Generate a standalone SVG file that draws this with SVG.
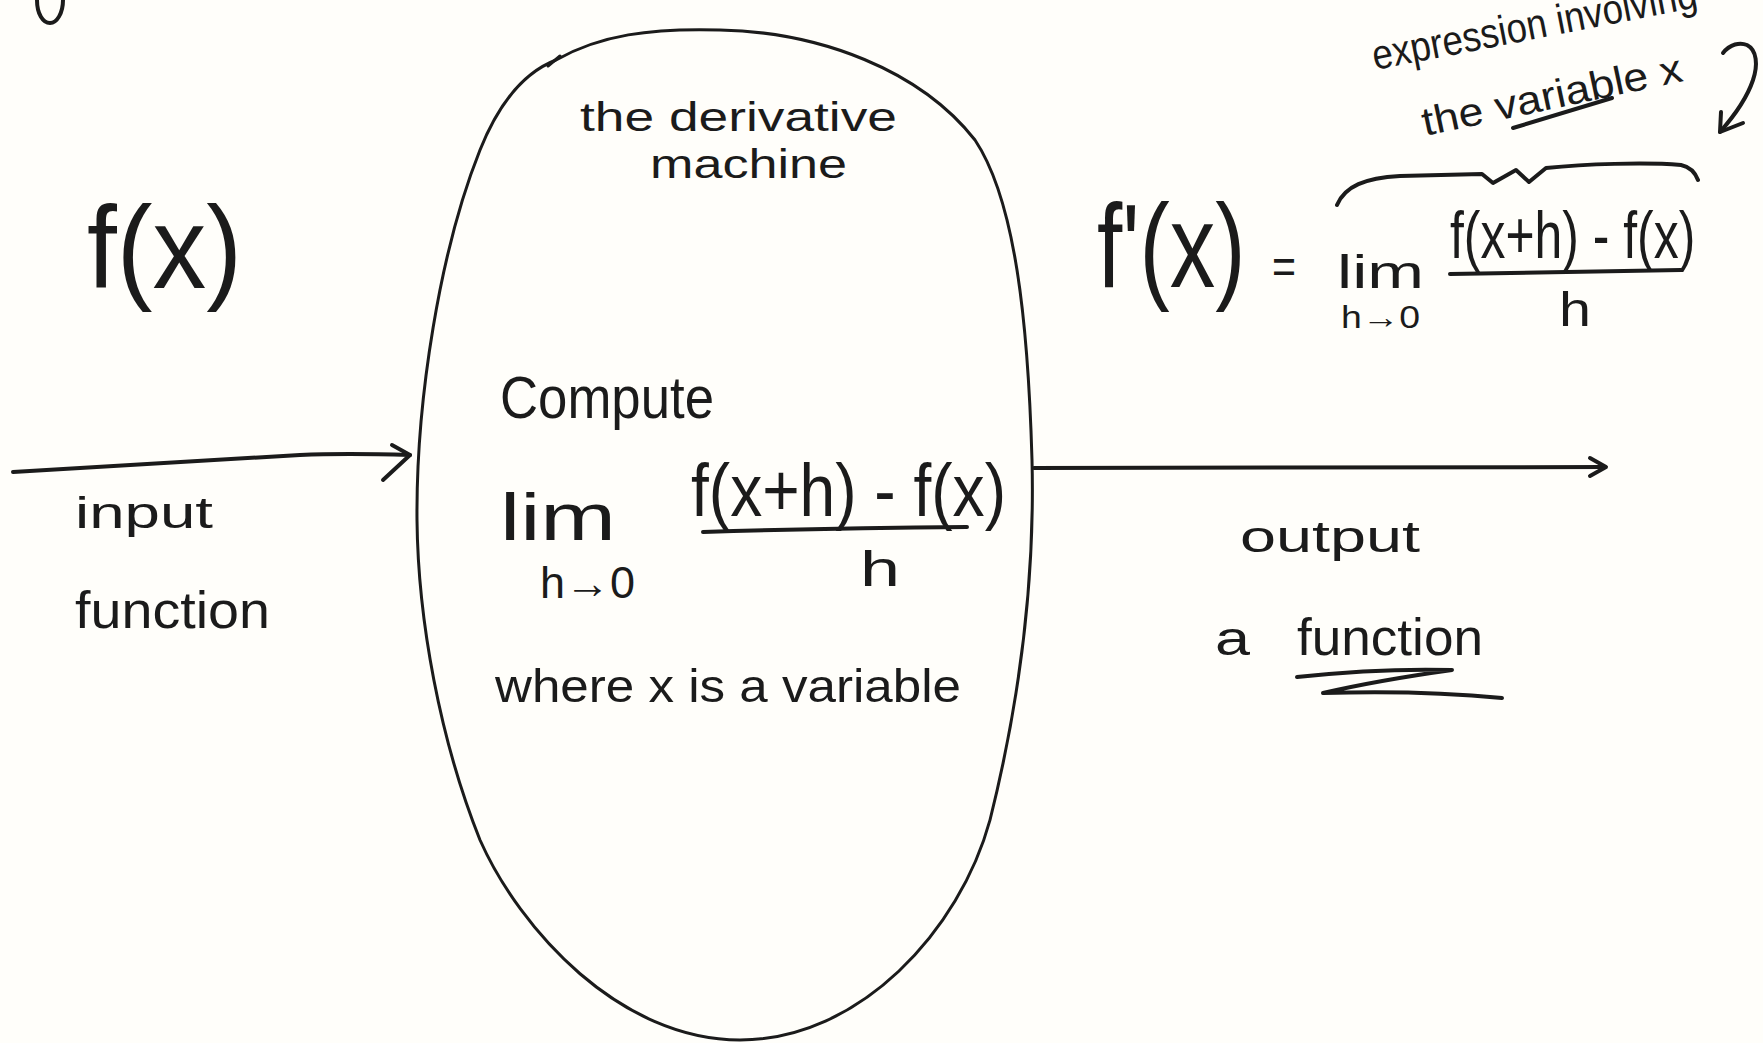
<svg xmlns="http://www.w3.org/2000/svg" width="1763" height="1043" viewBox="0 0 1763 1043">
<style>
.ink{fill:none;stroke:#1b1b1b;stroke-width:4;stroke-linecap:round;stroke-linejoin:round}
.thin{fill:none;stroke:#1b1b1b;stroke-width:3;stroke-linecap:round;stroke-linejoin:round}
.hw{font-family:"Liberation Sans","DejaVu Sans",sans-serif;fill:#1b1b1b}
</style>
<rect width="1763" height="1043" fill="#fffefa"/>
<path class="ink" d="M37,0 C37,14 43,23 50,23 C57,23 63,13 63,0"/>

<g id="input-node">
  <text class="hw" x="87" y="288" font-size="116" textLength="155" lengthAdjust="spacingAndGlyphs">f(x)</text>
  <text class="hw" x="75" y="528" font-size="44" textLength="138" lengthAdjust="spacingAndGlyphs">input</text>
  <text class="hw" x="75" y="628" font-size="52" textLength="195" lengthAdjust="spacingAndGlyphs">function</text>
</g>

<g id="machine">
  <path class="thin" d="M556,60 C600,35 650,28 720,30 C820,32 920,70 975,140 C1015,200 1028,320 1032,460 C1035,580 1020,700 990,820 C960,930 860,1040 740,1040 C620,1040 520,930 480,840 C440,740 418,620 417,520 C416,400 440,250 480,150 C500,100 525,72 556,60 Z"/>
  <path class="thin" d="M548,66 L560,56"/>
  <text class="hw" x="580" y="131" font-size="40" textLength="317" lengthAdjust="spacingAndGlyphs">the derivative</text>
  <text class="hw" x="650" y="178" font-size="40" textLength="197" lengthAdjust="spacingAndGlyphs">machine</text>
  <text class="hw" x="500" y="418" font-size="60" textLength="214" lengthAdjust="spacingAndGlyphs">Compute</text>
  <text class="hw" x="500" y="540" font-size="66" textLength="116" lengthAdjust="spacingAndGlyphs">lim</text>
  <text class="hw" x="540" y="598" font-size="44" textLength="95" lengthAdjust="spacingAndGlyphs">h→0</text>
  <text class="hw" x="691" y="516" font-size="74" textLength="315" lengthAdjust="spacingAndGlyphs">f(x+h) - f(x)</text>
  <path class="ink" d="M703,532 Q830,528 967,527"/>
  <text class="hw" x="860" y="586" font-size="50" textLength="40" lengthAdjust="spacingAndGlyphs">h</text>
  <text class="hw" x="495" y="702" font-size="46" textLength="466" lengthAdjust="spacingAndGlyphs">where x is  a variable</text>
</g>

<g id="output-node">
  <text class="hw" font-size="118" transform="translate(1097 287) scale(0.77 1)">f'(x)</text>
  <text class="hw" x="1272" y="283" font-size="50" textLength="24" lengthAdjust="spacingAndGlyphs">=</text>
  <text class="hw" x="1337" y="288" font-size="46" textLength="87" lengthAdjust="spacingAndGlyphs">lim</text>
  <text class="hw" x="1341" y="328" font-size="32" textLength="79" lengthAdjust="spacingAndGlyphs">h→0</text>
  <text class="hw" font-size="66" transform="translate(1450 258) scale(0.756 1)">f(x+h) - f(x)</text>
  <path class="ink" d="M1450,274 Q1560,272 1681,270"/>
  <text class="hw" x="1559" y="326" font-size="48" textLength="32" lengthAdjust="spacingAndGlyphs">h</text>
  <path class="ink" d="M1337,205 C1345,186 1365,178 1400,176 L1482,174 L1493,183 L1516,170 L1529,182 L1546,168 C1585,164 1645,162 1681,165 C1690,167 1695,172 1698,180"/>
  <text class="hw" x="1240" y="552" font-size="44" textLength="180" lengthAdjust="spacingAndGlyphs">output</text>
  <text class="hw" x="1215" y="655" font-size="48" textLength="35" lengthAdjust="spacingAndGlyphs">a</text>
  <text class="hw" x="1297" y="655" font-size="52" textLength="186" lengthAdjust="spacingAndGlyphs">function</text>
  <path class="ink" d="M1297,677 Q1380,668 1452,670 Q1380,680 1323,693 Q1420,690 1502,698"/>
</g>

<g id="annotation">
  <text class="hw" x="1375" y="70" font-size="42" textLength="330" lengthAdjust="spacingAndGlyphs" transform="rotate(-11 1375 70)">expression involving</text>
  <text class="hw" x="1425" y="136" font-size="40" textLength="265" lengthAdjust="spacingAndGlyphs" transform="rotate(-12 1425 136)">the variable  x</text>
  <path class="ink" d="M1513,128 L1612,98"/>
  <path class="ink" d="M1723,53 C1730,44 1740,42 1747,45 C1757,50 1758,65 1753,80 C1748,95 1735,115 1720,132"/>
  <path class="ink" d="M1721,112 L1720,132 L1743,123"/>
</g>

<g id="connectors">
  <path class="ink" d="M13,472 C120,466 220,460 300,455 C340,453 380,454 410,455"/>
  <path class="ink" d="M392,445 L410,455 L383,480"/>
  <path class="ink" d="M1034,468 L1604,467"/>
  <path class="ink" d="M1590,458 L1606,467 L1590,476"/>
</g>
</svg>
